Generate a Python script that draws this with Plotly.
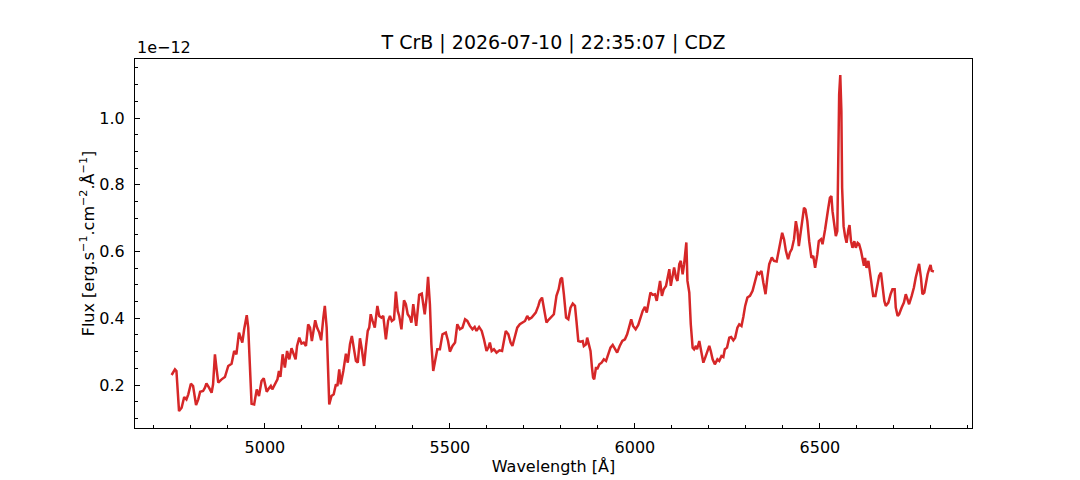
import plotly.graph_objects as go

# spectrum, flux in units of 1e-12 erg/s/cm2/A
wavelength = [
    4748, 4757, 4761, 4768, 4775, 4782, 4788, 4793, 4800, 4806,
    4814, 4820, 4825, 4833, 4838, 4842, 4849, 4856, 4860, 4865,
    4869, 4874, 4883, 4892, 4901, 4910, 4917, 4923, 4930, 4935,
    4939, 4944, 4951, 4955, 4959, 4964, 4971, 4978, 4984, 4991,
    4997, 5005, 5011, 5016, 5020, 5027, 5034, 5038, 5042, 5048,
    5054, 5060, 5066, 5072, 5076, 5083, 5087, 5093, 5099, 5105,
    5111, 5117, 5122, 5127, 5136, 5141, 5147, 5152, 5158, 5162,
    5167, 5171, 5174, 5180, 5186, 5192, 5196, 5201, 5205, 5212,
    5219, 5224, 5230, 5235, 5241, 5246, 5251, 5257, 5262, 5268,
    5273, 5278, 5282, 5286, 5291, 5297, 5304, 5309, 5315, 5320,
    5327, 5333, 5338, 5343, 5349, 5354, 5359, 5363, 5369, 5376,
    5381, 5386, 5392, 5396, 5401, 5405, 5409, 5417, 5424, 5428,
    5432, 5437, 5441, 5446, 5450, 5455, 5460, 5466, 5473, 5480,
    5489, 5495, 5500, 5507, 5514, 5520, 5527, 5534, 5541, 5547,
    5554, 5561, 5567, 5572, 5579, 5586, 5592, 5599, 5604, 5608,
    5613, 5619, 5626, 5634, 5641, 5646, 5651, 5658, 5664, 5669,
    5676, 5682, 5689, 5696, 5703, 5709, 5714, 5721, 5727, 5732,
    5739, 5743, 5749, 5755, 5761, 5768, 5775, 5781, 5788, 5794,
    5799, 5803, 5808, 5814, 5820, 5826, 5832, 5838, 5842, 5847,
    5853, 5859, 5862, 5868, 5871, 5877, 5880, 5884, 5887, 5890,
    5895, 5898, 5904, 5910, 5916, 5922, 5928, 5934, 5940, 5946,
    5952, 5959, 5966, 5973, 5979, 5984, 5990, 5995, 6002, 6009,
    6015, 6021, 6027, 6032, 6037, 6042, 6048, 6054, 6059, 6063,
    6068, 6073, 6078, 6084, 6088, 6093, 6097, 6102, 6106, 6111,
    6115, 6120, 6124, 6129, 6133, 6139, 6142, 6147, 6151, 6156,
    6160, 6165, 6168, 6174, 6178, 6185, 6190, 6196, 6201, 6205,
    6210, 6216, 6223, 6228, 6234, 6239, 6243, 6249, 6255, 6260,
    6266, 6271, 6277, 6282, 6288, 6293, 6298, 6304, 6311, 6318,
    6324, 6331, 6336, 6342, 6347, 6353, 6358, 6363, 6370, 6376,
    6383, 6389, 6394, 6398, 6403, 6408, 6414, 6419, 6424, 6430,
    6435, 6439, 6443, 6448, 6452, 6457, 6461, 6466, 6471, 6477,
    6482, 6487, 6493, 6497, 6503, 6507, 6514, 6518, 6522, 6527,
    6531, 6534, 6539, 6543, 6547, 6550, 6552, 6555, 6558, 6560,
    6564, 6568, 6572, 6577, 6580, 6584, 6588, 6593, 6597, 6602,
    6606, 6611, 6615, 6619, 6622, 6626, 6631, 6635, 6640, 6644,
    6650, 6655, 6660, 6665, 6669, 6674, 6678, 6685, 6691, 6696,
    6702, 6705, 6710, 6714, 6721, 6727, 6732, 6736, 6741, 6748,
    6754, 6759, 6765, 6768, 6773, 6777, 6782, 6786, 6791, 6795,
    6799, 6802, 6808,
]
flux = [
    0.230, 0.247, 0.242, 0.122, 0.132, 0.164, 0.157, 0.172, 0.204, 0.197,
    0.140, 0.157, 0.180, 0.182, 0.192, 0.205, 0.192, 0.177, 0.202, 0.292,
    0.252, 0.207, 0.217, 0.224, 0.257, 0.264, 0.302, 0.292, 0.357, 0.342,
    0.327, 0.367, 0.409, 0.372, 0.242, 0.144, 0.142, 0.187, 0.167, 0.212,
    0.220, 0.180, 0.190, 0.197, 0.187, 0.202, 0.217, 0.242, 0.224, 0.292,
    0.252, 0.302, 0.277, 0.310, 0.297, 0.277, 0.317, 0.342, 0.324, 0.327,
    0.317, 0.382, 0.372, 0.332, 0.394, 0.372, 0.357, 0.334, 0.402, 0.437,
    0.372, 0.192, 0.142, 0.167, 0.172, 0.202, 0.197, 0.247, 0.202, 0.242,
    0.294, 0.267, 0.322, 0.347, 0.307, 0.272, 0.267, 0.340, 0.307, 0.257,
    0.314, 0.362, 0.372, 0.412, 0.392, 0.372, 0.437, 0.407, 0.402, 0.407,
    0.337, 0.392, 0.407, 0.392, 0.397, 0.480, 0.422, 0.407, 0.367, 0.454,
    0.442, 0.412, 0.402, 0.387, 0.442, 0.407, 0.377, 0.470, 0.474, 0.442,
    0.412, 0.462, 0.524, 0.442, 0.322, 0.242, 0.272, 0.307, 0.307, 0.352,
    0.357, 0.332, 0.300, 0.317, 0.327, 0.382, 0.367, 0.372, 0.397, 0.392,
    0.377, 0.367, 0.374, 0.362, 0.374, 0.362, 0.337, 0.302, 0.312, 0.327,
    0.302, 0.307, 0.297, 0.304, 0.302, 0.337, 0.362, 0.352, 0.327, 0.317,
    0.352, 0.372, 0.382, 0.387, 0.392, 0.407, 0.397, 0.402, 0.412, 0.417,
    0.437, 0.452, 0.462, 0.422, 0.387, 0.397, 0.407, 0.412, 0.467, 0.487,
    0.517, 0.522, 0.472, 0.402, 0.397, 0.432, 0.444, 0.437, 0.392, 0.332,
    0.330, 0.332, 0.317, 0.322, 0.342, 0.312, 0.302, 0.252, 0.222, 0.217,
    0.254, 0.247, 0.262, 0.267, 0.277, 0.272, 0.292, 0.312, 0.320, 0.307,
    0.297, 0.317, 0.332, 0.337, 0.352, 0.372, 0.397, 0.377, 0.367, 0.380,
    0.402, 0.422, 0.434, 0.417, 0.447, 0.477, 0.470, 0.472, 0.452, 0.477,
    0.512, 0.467, 0.487, 0.497, 0.517, 0.547, 0.497, 0.527, 0.552, 0.522,
    0.512, 0.562, 0.572, 0.532, 0.562, 0.627, 0.512, 0.477, 0.382, 0.312,
    0.307, 0.317, 0.307, 0.332, 0.312, 0.267, 0.282, 0.302, 0.317, 0.302,
    0.277, 0.262, 0.277, 0.272, 0.287, 0.284, 0.307, 0.312, 0.342, 0.344,
    0.334, 0.342, 0.372, 0.382, 0.377, 0.404, 0.437, 0.462, 0.467, 0.482,
    0.504, 0.537, 0.532, 0.542, 0.507, 0.472, 0.522, 0.562, 0.582, 0.572,
    0.570, 0.602, 0.631, 0.656, 0.637, 0.602, 0.577, 0.597, 0.607, 0.637,
    0.691, 0.666, 0.616, 0.661, 0.693, 0.731, 0.726, 0.691, 0.631, 0.581,
    0.587, 0.551, 0.592, 0.631, 0.637, 0.622, 0.666, 0.706, 0.726, 0.761,
    0.766, 0.721, 0.671, 0.646, 0.661, 0.871, 1.071, 1.129, 1.021, 0.791,
    0.676, 0.646, 0.626, 0.666, 0.679, 0.631, 0.611, 0.631, 0.611, 0.626,
    0.622, 0.602, 0.572, 0.557, 0.581, 0.551, 0.572, 0.537, 0.492, 0.467,
    0.467, 0.492, 0.527, 0.537, 0.501, 0.452, 0.437, 0.447, 0.472, 0.487,
    0.487, 0.432, 0.407, 0.412, 0.432, 0.447, 0.472, 0.460, 0.442, 0.467,
    0.492, 0.522, 0.551, 0.563, 0.522, 0.472, 0.477, 0.507, 0.532, 0.547,
    0.560, 0.542, 0.540,
]

title = "T CrB | 2026-07-10 | 22:35:07 | CDZ"
font = "DejaVu Sans"

fig = go.Figure()
fig.add_trace(go.Scatter(x=wavelength, y=flux, mode="lines",
                         line=dict(color="#d62728", width=2.5),
                         showlegend=False))

axis_common = dict(showline=True, linecolor="black", linewidth=1.1, mirror=True,
                   ticks="inside", ticklen=5, tickwidth=1.1, tickcolor="black",
                   showgrid=False, zeroline=False,
                   tickfont=dict(family=font, size=16, color="black"))

fig.update_xaxes(range=[4649, 6911], dtick=500, tick0=5000,
                 minor=dict(dtick=100, ticks="inside", ticklen=3, tickwidth=0.9,
                            tickcolor="black", showgrid=False),
                 title=dict(text="Wavelength [Å]", standoff=3,
                            font=dict(family=font, size=16, color="black")),
                 ticklabelstandoff=5,
                 **axis_common)
fig.update_yaxes(range=[0.0712, 1.1768], dtick=0.2, tick0=0.2, tickformat=".1f",
                 minor=dict(dtick=0.05, ticks="inside", ticklen=3, tickwidth=0.9,
                            tickcolor="black", showgrid=False),
                 title=dict(text="Flux [erg.s<sup>−1</sup>.cm<sup>−2</sup>.Å<sup>−1</sup>]",
                            standoff=0,
                            font=dict(family=font, size=16, color="black")),
                 ticklabelstandoff=6,
                 **axis_common)

fig.add_annotation(text="1e−12", xref="paper", yref="paper", x=0, y=1,
                   xanchor="left", yanchor="bottom", yshift=0, showarrow=False,
                   font=dict(family=font, size=16, color="black"))

fig.update_layout(
    width=1080, height=480,
    title=dict(text=title, x=0.5, xref="paper", xanchor="center",
               y=0.929, yref="container", yanchor="middle",
               font=dict(family=font, size=19, color="black")),
    margin=dict(l=127, r=116, t=51, b=60),
    plot_bgcolor="white", paper_bgcolor="white",
)

fig.write_html("out.html")
